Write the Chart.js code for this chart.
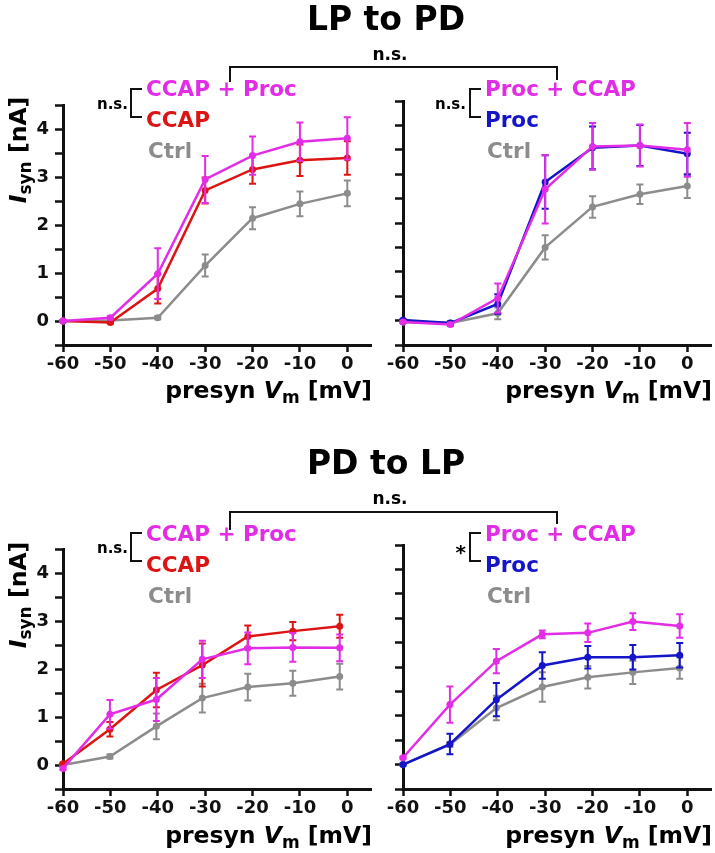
<!DOCTYPE html>
<html>
<head>
<meta charset="utf-8">
<script src="https://cdn.jsdelivr.net/npm/chart.js@4.4.1/dist/chart.umd.min.js"></script>
<style>
  html, body { margin: 0; padding: 0; background: #fff; overflow: hidden; }
  #fig { position: relative; width: 715px; height: 853px; }
  .panel { position: absolute; }
  #overlay { position: absolute; left: 0; top: 0; }
  #overlay text { font-family: 'DejaVu Sans', sans-serif; font-weight: bold; }
</style>
</head>
<body>
<div id="fig">
  <div class="panel" style="left:0px;top:89px"><canvas id="lpCcapChart" width="375" height="291"></canvas></div>
  <div class="panel" style="left:340px;top:89px"><canvas id="lpProcChart" width="375" height="291"></canvas></div>
  <div class="panel" style="left:0px;top:533px"><canvas id="pdCcapChart" width="375" height="291"></canvas></div>
  <div class="panel" style="left:340px;top:533px"><canvas id="pdProcChart" width="375" height="291"></canvas></div>

  <svg id="overlay" width="715" height="853">
    <!-- LP to PD -->
    <text x="386" y="30" font-size="33" text-anchor="middle">LP to PD</text>
    <text x="390" y="60" font-size="17" text-anchor="middle">n.s.</text>
    <path d="M230,82 V67 H557 V80" fill="none" stroke="#111" stroke-width="2"/>

    <text x="128" y="109" font-size="15" text-anchor="end">n.s.</text>
    <path d="M142,89 H131 V117 H142" fill="none" stroke="#111" stroke-width="2"/>
    <text x="146" y="96" font-size="21.5" fill="#e22ce6">CCAP + Proc</text>
    <text x="146" y="127" font-size="21.5" fill="#dc1414">CCAP</text>
    <text x="148" y="158" font-size="21.5" fill="#8c8c8c">Ctrl</text>

    <text x="466" y="109" font-size="15" text-anchor="end">n.s.</text>
    <path d="M481,89 H470 V117 H481" fill="none" stroke="#111" stroke-width="2"/>
    <text x="485" y="96" font-size="21.5" fill="#e22ce6">Proc + CCAP</text>
    <text x="485" y="127" font-size="21.5" fill="#1414c8">Proc</text>
    <text x="487" y="158" font-size="21.5" fill="#8c8c8c">Ctrl</text>

    <!-- PD to LP -->
    <text x="386" y="474" font-size="33" text-anchor="middle">PD to LP</text>
    <text x="390" y="504" font-size="17" text-anchor="middle">n.s.</text>
    <path d="M230,530 V512 H557 V524" fill="none" stroke="#111" stroke-width="2"/>

    <text x="128" y="553" font-size="15" text-anchor="end">n.s.</text>
    <path d="M142,533 H131 V561 H142" fill="none" stroke="#111" stroke-width="2"/>
    <text x="146" y="541" font-size="21.5" fill="#e22ce6">CCAP + Proc</text>
    <text x="146" y="572" font-size="21.5" fill="#dc1414">CCAP</text>
    <text x="148" y="603" font-size="21.5" fill="#8c8c8c">Ctrl</text>

    <text x="466" y="559" font-size="20" text-anchor="end">*</text>
    <path d="M481,533 H470 V561 H481" fill="none" stroke="#111" stroke-width="2"/>
    <text x="485" y="541" font-size="21.5" fill="#e22ce6">Proc + CCAP</text>
    <text x="485" y="572" font-size="21.5" fill="#1414c8">Proc</text>
    <text x="487" y="603" font-size="21.5" fill="#8c8c8c">Ctrl</text>

    <!-- axis titles -->
    <text transform="translate(26,150) rotate(-90)" font-size="23.5" text-anchor="middle"><tspan font-style="italic">I</tspan><tspan font-size="17" dy="5">syn</tspan><tspan dy="-5"> [nA]</tspan></text>
    <text transform="translate(26,595) rotate(-90)" font-size="23.5" text-anchor="middle"><tspan font-style="italic">I</tspan><tspan font-size="17" dy="5">syn</tspan><tspan dy="-5"> [nA]</tspan></text>

    <text x="372" y="398" font-size="23.5" text-anchor="end">presyn <tspan font-style="italic">V</tspan><tspan font-size="17" dy="5">m</tspan><tspan dy="-5"> [mV]</tspan></text>
    <text x="712" y="398" font-size="23.5" text-anchor="end">presyn <tspan font-style="italic">V</tspan><tspan font-size="17" dy="5">m</tspan><tspan dy="-5"> [mV]</tspan></text>
    <text x="372" y="843" font-size="23.5" text-anchor="end">presyn <tspan font-style="italic">V</tspan><tspan font-size="17" dy="5">m</tspan><tspan dy="-5"> [mV]</tspan></text>
    <text x="712" y="843" font-size="23.5" text-anchor="end">presyn <tspan font-style="italic">V</tspan><tspan font-size="17" dy="5">m</tspan><tspan dy="-5"> [mV]</tspan></text>
  </svg>
</div>

<script>
// presynaptic voltage steps (mV)
const vmTop = [-60, -50, -40, -30, -20, -10, 0];
const vmBottom = [-60, -50.1, -40.3, -30.6, -21, -11.5, -1.6];

// LP to PD, CCAP panel (nA, mean and SEM)
const lpCcapProc = [0, 0.07, 0.99, 2.96, 3.46, 3.75, 3.82];
const lpCcapProcErr = [0.02, 0.03, 0.53, 0.49, 0.4, 0.4, 0.44];
const lpCcap = [0, -0.03, 0.68, 2.73, 3.17, 3.36, 3.41];
const lpCcapErr = [0.02, 0.02, 0.31, 0.27, 0.3, 0.33, 0.35];
const lpCtrlA = [0, 0.01, 0.07, 1.16, 2.15, 2.45, 2.67];
const lpCtrlAErr = [0.01, 0.02, 0.03, 0.23, 0.23, 0.26, 0.27];

// LP to PD, Proc panel
const lpProcCcap = [-0.03, -0.08, 0.46, 2.69, 3.57, 3.59, 3.5];
const lpProcCcapErr = [0.02, 0.03, 0.3, 0.7, 0.48, 0.43, 0.55];
const lpProc = [0.01, -0.05, 0.34, 2.84, 3.54, 3.59, 3.42];
const lpProcErr = [0.02, 0.03, 0.2, 0.55, 0.44, 0.42, 0.43];
const lpCtrlB = [-0.03, -0.05, 0.15, 1.5, 2.33, 2.59, 2.76];
const lpCtrlBErr = [0.02, 0.03, 0.12, 0.25, 0.22, 0.2, 0.25];

// PD to LP, CCAP panel
const pdCcapProc = [-0.07, 1.06, 1.37, 2.21, 2.44, 2.46, 2.45];
const pdCcapProcErr = [0.03, 0.3, 0.45, 0.39, 0.33, 0.3, 0.28];
const pdCcap = [0.03, 0.75, 1.57, 2.09, 2.69, 2.8, 2.9];
const pdCcapErr = [0.02, 0.15, 0.36, 0.45, 0.23, 0.19, 0.24];
const pdCtrlA = [0, 0.18, 0.81, 1.4, 1.63, 1.71, 1.85];
const pdCtrlAErr = [0.01, 0.04, 0.27, 0.3, 0.28, 0.26, 0.27];

// PD to LP, Proc panel
const pdProcCcap = [0.14, 1.23, 2.12, 2.67, 2.7, 2.93, 2.84];
const pdProcCcapErr = [0.02, 0.37, 0.25, 0.08, 0.19, 0.17, 0.24];
const pdProc = [0, 0.42, 1.33, 2.03, 2.2, 2.2, 2.24];
const pdProcErr = [0.02, 0.21, 0.34, 0.27, 0.23, 0.25, 0.25];
const pdCtrlB = [0, 0.41, 1.16, 1.59, 1.79, 1.89, 1.98];
const pdCtrlBErr = [0.01, 0.05, 0.25, 0.3, 0.23, 0.24, 0.22];

const MAGENTA = '#e22ce6';
const RED = '#dc1414';
const BLUE = '#1414c8';
const GRAY = '#8c8c8c';
const AXIS = '#111';
const tickFont = { family: 'DejaVu Sans', weight: 'bold', size: 18 };

// vertical SEM bars, drawn under each series
const errorBars = {
  id: 'errorBars',
  beforeDatasetDraw(chart, args) {
    const ds = chart.data.datasets[args.index];
    const yScale = chart.scales.y;
    const ctx = chart.ctx;
    ctx.save();
    ctx.strokeStyle = ds.borderColor;
    ctx.lineWidth = 2;
    args.meta.data.forEach((pt, i) => {
      const e = ds.err[i];
      const v = ds.data[i].y;
      const top = yScale.getPixelForValue(v + e);
      const bot = yScale.getPixelForValue(v - e);
      ctx.beginPath();
      ctx.moveTo(pt.x, top); ctx.lineTo(pt.x, bot);
      ctx.moveTo(pt.x - 3.5, top); ctx.lineTo(pt.x + 3.5, top);
      ctx.moveTo(pt.x - 3.5, bot); ctx.lineTo(pt.x + 3.5, bot);
      ctx.stroke();
    });
    ctx.restore();
  }
};

function series(xs, ys, errs, color) {
  return {
    data: xs.map((x, i) => ({ x: x, y: ys[i] })),
    err: errs,
    borderColor: color,
    backgroundColor: color,
    borderWidth: 2.5,
    pointRadius: 3.5,
    pointBorderWidth: 0,
    tension: 0,
    clip: false
  };
}

function makePanel(id, datasets, showYLabels) {
  new Chart(document.getElementById(id), {
    type: 'line',
    data: { datasets: datasets },
    plugins: [errorBars],
    options: {
      responsive: false,
      animation: false,
      events: [],
      layout: { padding: { top: 12, right: 3, left: 0, bottom: 0 } },
      plugins: { legend: { display: false }, tooltip: { enabled: false } },
      scales: {
        x: {
          type: 'linear',
          min: -60,
          max: 5,
          afterBuildTicks: s => { s.ticks = s.ticks.filter(t => t.value <= 0); },
          afterFit: s => { s.height = 35; },
          ticks: { stepSize: 10, font: tickFont, color: AXIS, padding: 2, maxRotation: 0, autoSkip: false },
          grid: { drawOnChartArea: false, tickLength: 7, tickWidth: 2.5, color: AXIS },
          border: { display: true, width: 3, color: AXIS }
        },
        y: {
          min: -0.5,
          max: 4.5,
          afterFit: s => { s.width = 63; },
          ticks: {
            stepSize: 0.5,
            autoSkip: false,
            display: showYLabels,
            font: tickFont,
            color: AXIS,
            padding: 6,
            callback: v => Number.isInteger(v) && v >= 0 ? v : ''
          },
          grid: { drawOnChartArea: false, tickLength: 8, tickWidth: 2.5, color: AXIS },
          border: { display: true, width: 3, color: AXIS }
        }
      }
    }
  });
}

// first dataset is drawn on top
makePanel('lpCcapChart', [
  series(vmTop, lpCcapProc, lpCcapProcErr, MAGENTA),
  series(vmTop, lpCcap, lpCcapErr, RED),
  series(vmTop, lpCtrlA, lpCtrlAErr, GRAY)
], true);

makePanel('lpProcChart', [
  series(vmTop, lpProcCcap, lpProcCcapErr, MAGENTA),
  series(vmTop, lpProc, lpProcErr, BLUE),
  series(vmTop, lpCtrlB, lpCtrlBErr, GRAY)
], false);

makePanel('pdCcapChart', [
  series(vmBottom, pdCcapProc, pdCcapProcErr, MAGENTA),
  series(vmBottom, pdCcap, pdCcapErr, RED),
  series(vmBottom, pdCtrlA, pdCtrlAErr, GRAY)
], true);

makePanel('pdProcChart', [
  series(vmBottom, pdProcCcap, pdProcCcapErr, MAGENTA),
  series(vmBottom, pdProc, pdProcErr, BLUE),
  series(vmBottom, pdCtrlB, pdCtrlBErr, GRAY)
], false);
</script>
</body>
</html>
